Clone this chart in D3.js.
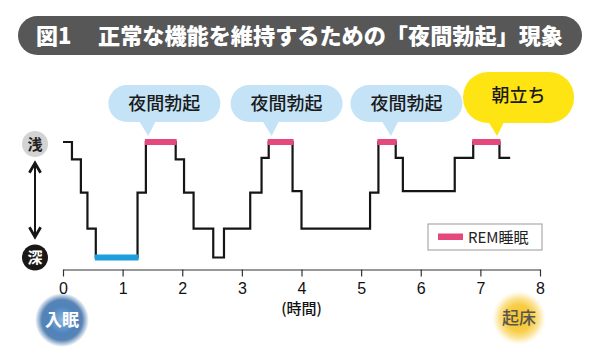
<!DOCTYPE html>
<meta charset="utf-8">
<style>
body { margin: 0; background: #fff; }
svg { display: block; font-family: "Noto Sans CJK JP", "Noto Sans", sans-serif; }
.tick text { font-family: "Liberation Sans", Arial, sans-serif; font-size: 16px; fill: #111; }
.tick line, .domain { stroke: #333; stroke-width: 1.2; }
</style>
<svg width="600" height="363"></svg>
<script src="https://d3js.org/d3.v7.min.js"></script>
<script>

// data
var titleNum = "図1";
var titleText = "正常な機能を維持するための「夜間勃起」現象";

// step start times (hours), depth (0 = 浅, 4 = 深) and kind of each step
var stepTimes  = [0, 0.15, 0.30, 0.41, 0.55, 1.25, 1.39, 1.89, 2.03, 2.19, 2.52, 2.70, 3.14, 3.33, 3.45, 3.85, 4.00, 5.15, 5.29, 5.58, 5.70, 6.57, 6.88, 7.32];
var stepDepths = [0, 0.6, 1.75, 3, 4, 1.75, 0, 0.6, 1.75, 3, 4, 3, 1.75, 0.55, 0, 1.7, 3, 1.75, 0, 0.55, 1.7, 0.55, 0, 0.55];
var stepKinds  = ["", "", "", "", "deep", "", "rem", "", "", "", "", "", "", "", "rem", "", "", "", "rem", "", "", "", "rem", ""];
var endTime = 7.5;

var xTicks = [0, 1, 2, 3, 4, 5, 6, 7, 8];
var xLabel = "(時間)";

var bubbleLabels = ["夜間勃起", "夜間勃起", "夜間勃起", "朝立ち"];
var bubbleCenters = [1.70, 3.75, 5.76, 7.64];
var bubbleTips = [1.43, 3.50, 5.50, 7.28];

var legendLabel = "REM睡眠";

var svg = d3.select("svg");

var x = d3.scaleLinear().domain([0, 8]).range([63, 540]);
var y = d3.scaleLinear().domain([0, 4]).range([142, 257.5]);

var black = "#151515", pink = "#e4487c", blue = "#1e9fdc";

// title bar
svg.append("rect")
    .attr("x", 18).attr("y", 16)
    .attr("width", 564).attr("height", 39)
    .attr("rx", 19.5)
    .attr("fill", "#575757");

svg.append("text")
    .attr("x", 36).attr("y", 44)
    .attr("fill", "#fff")
    .attr("font-size", 22).attr("font-weight", 900)
    .text(titleNum);

svg.append("text")
    .attr("x", 98).attr("y", 44)
    .attr("fill", "#fff")
    .attr("font-size", 22).attr("font-weight", 900)
    .attr("textLength", 465).attr("lengthAdjust", "spacingAndGlyphs")
    .text(titleText);

// axis
svg.append("g")
    .attr("transform", "translate(0,269.5)")
    .call(d3.axisBottom(x).tickValues(xTicks).tickSize(7).tickSizeOuter(0).tickPadding(6))
    .call(g => g.selectAll(".tick line").attr("stroke", "#333"));

svg.append("text")
    .attr("x", x(4)).attr("y", 314)
    .attr("text-anchor", "middle")
    .attr("font-size", 15).attr("font-weight", 500)
    .attr("fill", "#111")
    .text(xLabel);

// depth indicator
svg.append("defs").html(
  '<marker id="arr" viewBox="0 0 10 10" refX="8" refY="5" markerWidth="7" markerHeight="7" orient="auto-start-reverse">' +
  '<path d="M1,1 L8,5 L1,9" fill="none" stroke="#151515" stroke-width="2"/></marker>' +
  '<radialGradient id="gSleep" cx="50%" cy="50%" r="50%">' +
  '<stop offset="0%" stop-color="#86b2dc"/><stop offset="50%" stop-color="#4f84bc"/>' +
  '<stop offset="75%" stop-color="#3b6ea8" stop-opacity="0.85"/><stop offset="100%" stop-color="#3b6ea8" stop-opacity="0"/></radialGradient>' +
  '<radialGradient id="gWake" cx="50%" cy="50%" r="50%">' +
  '<stop offset="0%" stop-color="#f6c42c"/><stop offset="50%" stop-color="#f8cd48"/>' +
  '<stop offset="75%" stop-color="#fad970" stop-opacity="0.7"/><stop offset="100%" stop-color="#fde9a8" stop-opacity="0"/></radialGradient>'
);

svg.append("line")
    .attr("x1", 35).attr("x2", 35)
    .attr("y1", 163).attr("y2", 237)
    .attr("stroke", black).attr("stroke-width", 2)
    .attr("marker-start", "url(#arr)").attr("marker-end", "url(#arr)");

svg.append("circle").attr("cx", 35).attr("cy", 144).attr("r", 13).attr("fill", "#d3d3d3");
svg.append("text").attr("x", 35).attr("y", 149.5).attr("text-anchor", "middle")
    .attr("font-size", 15).attr("font-weight", 700).attr("fill", "#222").text("浅");
svg.append("circle").attr("cx", 35).attr("cy", 257.5).attr("r", 13).attr("fill", "#1c1717");
svg.append("text").attr("x", 35).attr("y", 263).attr("text-anchor", "middle")
    .attr("font-size", 15).attr("font-weight", 700).attr("fill", "#fff").text("深");

// hypnogram step line
var pts = stepTimes.map((t, i) => [t, stepDepths[i]]);
pts.push([endTime, stepDepths[stepDepths.length - 1]]);

svg.append("path")
    .datum(pts)
    .attr("fill", "none")
    .attr("stroke", black)
    .attr("stroke-width", 2.2)
    .attr("d", d3.line().x(d => x(d[0])).y(d => y(d[1])).curve(d3.curveStepAfter));

var segs = stepTimes.map((t, i) => ({
  t0: t,
  t1: i < stepTimes.length - 1 ? stepTimes[i + 1] : endTime,
  d: stepDepths[i],
  kind: stepKinds[i]
})).filter(s => s.kind);

svg.selectAll(".seg")
  .data(segs)
  .join("line")
    .attr("class", "seg")
    .attr("x1", d => x(d.t0) - 1)
    .attr("x2", d => x(d.t1) + 1)
    .attr("y1", d => y(d.d))
    .attr("y2", d => y(d.d))
    .attr("stroke", d => d.kind == "rem" ? pink : blue)
    .attr("stroke-width", 6);

// bubbles
var bub = svg.selectAll(".bubble")
  .data(bubbleLabels.map((l, i) => ({label: l, c: bubbleCenters[i], tip: bubbleTips[i], last: i == bubbleLabels.length - 1})))
  .join("g")
    .attr("class", "bubble");

bub.append("path")
    .attr("fill", d => d.last ? "#ffe414" : "#c4e3f6")
    .attr("d", d => {
      var tx = x(d.tip);
      return "M" + (tx - 11) + ",118 L" + tx + ",136 L" + (tx + 9) + ",118 Z";
    });

bub.append("rect")
    .attr("x", d => x(d.c) - (d.last ? 55.5 : 56))
    .attr("y", d => d.last ? 72 : 85)
    .attr("width", d => d.last ? 111 : 112)
    .attr("height", d => d.last ? 51 : 37)
    .attr("rx", d => d.last ? 25 : 18.5)
    .attr("fill", d => d.last ? "#ffe414" : "#c4e3f6");

bub.append("text")
    .attr("x", d => x(d.c))
    .attr("y", d => d.last ? 102 : 110)
    .attr("text-anchor", "middle")
    .attr("font-size", 18).attr("font-weight", 500)
    .attr("fill", "#1a1a1a")
    .text(d => d.label);

// legend
var legend = svg.append("g").attr("transform", "translate(428,224)");
legend.append("rect")
    .attr("width", 114).attr("height", 26)
    .attr("fill", "#fff").attr("stroke", "#999").attr("stroke-width", 1);
legend.append("rect")
    .attr("x", 10).attr("y", 9.5).attr("width", 25).attr("height", 6.5)
    .attr("fill", pink);
legend.append("text")
    .attr("x", 40).attr("y", 18.5)
    .attr("font-size", 15).attr("fill", "#222")
    .text(legendLabel);

// sleep / wake markers
svg.append("circle").attr("cx", 62).attr("cy", 320).attr("r", 27).attr("fill", "url(#gSleep)");
svg.append("text").attr("x", 62).attr("y", 326).attr("text-anchor", "middle")
    .attr("font-size", 17).attr("font-weight", 700).attr("fill", "#fff").text("入眠");
svg.append("circle").attr("cx", 519).attr("cy", 318).attr("r", 27).attr("fill", "url(#gWake)");
svg.append("text").attr("x", 519).attr("y", 324).attr("text-anchor", "middle")
    .attr("font-size", 17).attr("font-weight", 500).attr("fill", "#555").text("起床");

</script>
